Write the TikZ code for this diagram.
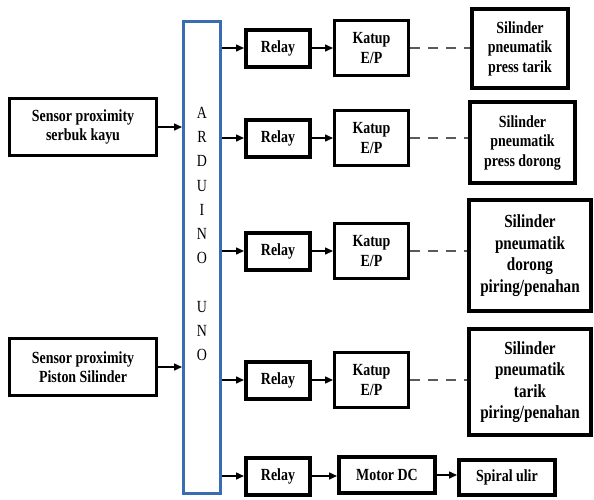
\documentclass[tikz,border=0pt]{standalone}
\usepackage{fontspec}
\setmainfont{Liberation Serif}[FakeStretch=0.82]
\usetikzlibrary{arrows.meta}

\definecolor{arduinoblue}{RGB}{58,108,178}
\definecolor{dashgray}{RGB}{90,90,90}

\tikzset{
  >={Triangle[length=8pt,width=7pt]},
  blockbox/.style={draw, align=center, inner sep=1pt,
    font=\bfseries\fontsize{17}{19.5}\selectfont},
  sensorbox/.style={blockbox, line width=3pt, minimum width=147pt, minimum height=57pt},
  relaybox/.style={blockbox, line width=4pt, minimum width=64pt, minimum height=37pt},
  katupbox/.style={blockbox, line width=3pt, minimum width=74pt, minimum height=55pt},
  silbox/.style={blockbox, line width=4pt},
  bigsil/.style={silbox, font=\bfseries\fontsize{18.5}{21.5}\selectfont},
  signal/.style={->, line width=1.5pt},
  airline/.style={line width=1.6pt, dashgray, dash pattern=on 10pt off 8pt}
}

\begin{document}
\begin{tikzpicture}[x=1pt, y=-1pt]
        \useasboundingbox (0,0) rectangle (594,499);

        % Arduino board
        \node[draw=arduinoblue, line width=3pt, minimum width=37pt, minimum height=472pt] (arduino) at (202,257.5) {};
        \node[align=center, font=\fontsize{17}{24.2}\selectfont] (ardlabel) at (202,234)
          {A\\R\\D\\U\\I\\N\\O\\[24.2pt]U\\N\\O};

        % Sensor inputs
        \node[sensorbox] (sensor1) at (83,127) {Sensor proximity\\serbuk kayu};
        \node[sensorbox] (sensor2) at (83,367) {Sensor proximity\\Piston Silinder};

        % Relays
        \node[relaybox] (relay1) at (278,48) {Relay};
        \node[relaybox] (relay2) at (278,138) {Relay};
        \node[relaybox] (relay3) at (278,251) {Relay};
        \node[relaybox] (relay4) at (278,380) {Relay};
        \node[relaybox] (relay5) at (278,476) {Relay};

        % Valves
        \node[katupbox] (katup1) at (371.5,48) {Katup\\E/P};
        \node[katupbox] (katup2) at (371.5,138) {Katup\\E/P};
        \node[katupbox] (katup3) at (371.5,251) {Katup\\E/P};
        \node[katupbox] (katup4) at (371.5,380) {Katup\\E/P};

        % Cylinders
        \node[silbox, minimum width=96pt, minimum height=79pt] (sil1) at (520,48.5) {Silinder\\pneumatik\\press tarik};
        \node[silbox, minimum width=105pt, minimum height=81pt] (sil2) at (522.5,142.5) {Silinder\\pneumatik\\press dorong};
        \node[bigsil, minimum width=122pt, minimum height=111pt] (sil3) at (530,255.5) {Silinder\\pneumatik\\dorong\\piring/penahan};
        \node[bigsil, minimum width=122pt, minimum height=106pt] (sil4) at (530,382) {Silinder\\pneumatik\\tarik\\piring/penahan};

        % Motor line
        \node[silbox, minimum width=96pt, minimum height=36pt] (motor) at (387,475) {Motor DC};
        \node[silbox, minimum width=96pt, minimum height=35pt] (spiral) at (507,477.5) {Spiral ulir};

        % Inputs to Arduino
        \draw[signal] (sensor1) -- (sensor1 -| arduino.west);
        \draw[signal] (sensor2) -- (sensor2 -| arduino.west);

        % Arduino to relays
        \foreach \r in {1,...,5}
          \draw[signal] (arduino.east |- relay\r) -- (relay\r);

        % Relays to valves, valves to cylinders
        \foreach \r in {1,...,4} {
          \draw[signal] (relay\r) -- (katup\r);
          \draw[airline] (katup\r) -- (katup\r -| sil\r.west);
        }

        % Motor and spiral
        \draw[signal] (relay5) -- (relay5 -| motor.west);
        \draw[signal] (motor) -- (motor -| spiral.west);
    \end{tikzpicture}
\end{document}
